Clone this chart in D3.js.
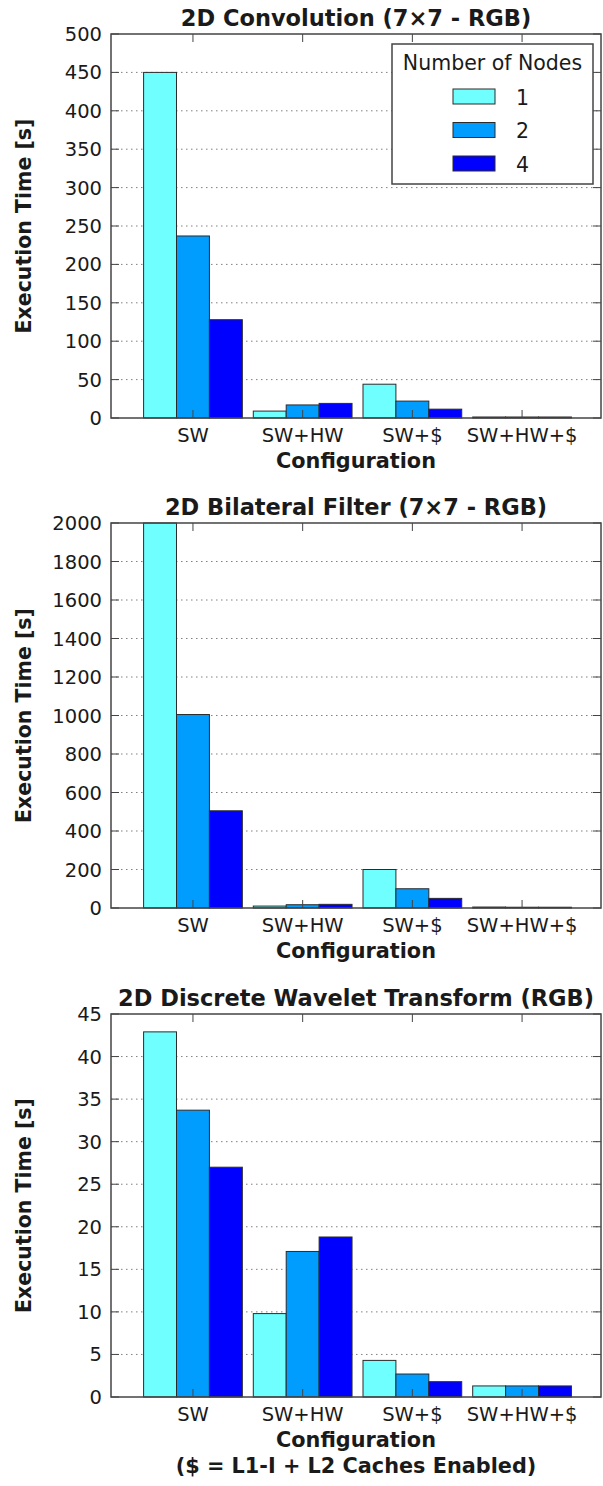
<!DOCTYPE html>
<html>
<head>
<meta charset="utf-8">
<script src="https://cdn.jsdelivr.net/npm/d3@7"></script>
<style>
  html, body { margin: 0; padding: 0; background: #fff; }
  svg { display: block; }
  text { font-family: "DejaVu Sans", sans-serif; fill: #1a1a1a; }
</style>
</head>
<body>
<svg id="chart" width="603" height="1486"></svg>
<script>
// ---- data ----
const categories = ["SW", "SW+HW", "SW+$", "SW+HW+$"];
const nodeCounts = ["1", "2", "4"];
const nodeColors = ["#70ffff", "#009dff", "#0000ff"];

// values[category][node]
const convolutionValues = [[450, 237, 128], [9, 17, 19], [44, 22, 11.5], [1.3, 1.3, 1.3]];
const bilateralValues = [[2000, 1005, 505], [10, 17, 19], [200, 100, 50], [5, 4, 4]];
const waveletValues = [[42.9, 33.7, 27.0], [9.8, 17.1, 18.8], [4.3, 2.7, 1.8], [1.3, 1.3, 1.3]];

const convolutionTicks = [0, 50, 100, 150, 200, 250, 300, 350, 400, 450, 500];
const bilateralTicks = [0, 200, 400, 600, 800, 1000, 1200, 1400, 1600, 1800, 2000];
const waveletTicks = [0, 5, 10, 15, 20, 25, 30, 35, 40, 45];

const titles = ["2D Convolution (7\u00d77 - RGB)", "2D Bilateral Filter (7\u00d77 - RGB)", "2D Discrete Wavelet Transform (RGB)"];
const yLabel = "Execution Time [s]";
const xLabel = "Configuration";
const xNote = "($ = L1-I + L2 Caches Enabled)";
const legendTitle = "Number of Nodes";

// ---- layout ----
const svg = d3.select("#chart");
const left = 111, right = 601;
const panels = [
  { title: titles[0], values: convolutionValues, ticks: convolutionTicks, top: 34, bottom: 418, legend: true, note: false },
  { title: titles[1], values: bilateralValues, ticks: bilateralTicks, top: 523, bottom: 908, legend: false, note: false },
  { title: titles[2], values: waveletValues, ticks: waveletTicks, top: 1014, bottom: 1397, legend: false, note: true }
];

const step = 109.7;
const x0 = d3.scaleBand().domain(categories)
  .range([143.6, 143.6 + 3.9 * step]).paddingInner(0.1).paddingOuter(0);
const x1 = d3.scaleBand().domain(nodeCounts).range([0, x0.bandwidth()]).padding(0);
const color = d3.scaleOrdinal().domain(nodeCounts).range(nodeColors);

const spine = "#444";
const tickLen = 8;

panels.forEach(p => {
  const g = svg.append("g");
  const y = d3.scaleLinear().domain([0, d3.max(p.ticks)]).range([p.bottom, p.top]);

  // grid
  g.append("g").selectAll("line").data(p.ticks.filter(t => t > 0 && t < d3.max(p.ticks))).join("line")
    .attr("x1", left).attr("x2", right)
    .attr("y1", d => y(d)).attr("y2", d => y(d))
    .attr("stroke", "#808080").attr("stroke-width", 1)
    .attr("stroke-dasharray", "1.5,3.5");

  // bars
  const groups = g.append("g").selectAll("g").data(categories).join("g")
    .attr("transform", c => `translate(${x0(c)},0)`);
  groups.selectAll("rect")
    .data((c, i) => nodeCounts.map((n, j) => ({ n, v: p.values[i][j] })))
    .join("rect")
    .attr("x", d => x1(d.n))
    .attr("y", d => y(d.v))
    .attr("width", x1.bandwidth())
    .attr("height", d => y(0) - y(d.v))
    .attr("fill", d => color(d.n))
    .attr("stroke", "#2b2b2b").attr("stroke-width", 1);

  // ticks inward on all sides
  const tg = g.append("g").attr("stroke", spine).attr("stroke-width", 1);
  p.ticks.forEach(t => {
    tg.append("line").attr("x1", left).attr("x2", left + tickLen).attr("y1", y(t)).attr("y2", y(t));
    tg.append("line").attr("x1", right).attr("x2", right - tickLen).attr("y1", y(t)).attr("y2", y(t));
  });
  categories.forEach(c => {
    const cx = x0(c) + x0.bandwidth() / 2;
    tg.append("line").attr("x1", cx).attr("x2", cx).attr("y1", p.top).attr("y2", p.top + tickLen);
    tg.append("line").attr("x1", cx).attr("x2", cx).attr("y1", p.bottom).attr("y2", p.bottom - tickLen);
  });

  // frame
  g.append("rect").attr("x", left).attr("y", p.top)
    .attr("width", right - left).attr("height", p.bottom - p.top)
    .attr("fill", "none").attr("stroke", spine).attr("stroke-width", 1.5);

  // y tick labels
  g.append("g").selectAll("text").data(p.ticks).join("text")
    .attr("x", left - 9).attr("y", d => y(d)).attr("dy", "0.36em")
    .attr("text-anchor", "end").style("font-size", "19.5px")
    .text(d => d);

  // x tick labels
  g.append("g").selectAll("text").data(categories).join("text")
    .attr("x", c => x0(c) + x0.bandwidth() / 2).attr("y", p.bottom + 24)
    .attr("text-anchor", "middle").style("font-size", "19.5px")
    .text(c => c);

  // axis labels
  const cxAxis = (left + right) / 2;
  g.append("text").attr("x", cxAxis).attr("y", p.bottom + 50)
    .attr("text-anchor", "middle").style("font-size", "20.8px").style("font-weight", "bold")
    .text(xLabel);
  if (p.note) {
    g.append("text").attr("x", cxAxis).attr("y", p.bottom + 76)
      .attr("text-anchor", "middle").style("font-size", "20.8px").style("font-weight", "bold")
      .text(xNote);
  }
  g.append("text")
    .attr("transform", `translate(31,${(p.top + p.bottom) / 2}) rotate(-90)`)
    .attr("text-anchor", "middle").style("font-size", "20.5px").style("font-weight", "bold")
    .text(yLabel);

  // title
  g.append("text").attr("x", cxAxis).attr("y", p.top - 8)
    .attr("text-anchor", "middle").style("font-size", "22.5px").style("font-weight", "bold")
    .text(p.title);

  // legend
  if (p.legend) {
    const lg = g.append("g");
    lg.append("rect").attr("x", 392).attr("y", 44).attr("width", 201).attr("height", 140)
      .attr("fill", "#fff").attr("stroke", spine).attr("stroke-width", 1.5);
    lg.append("text").attr("x", 492.5).attr("y", 70).attr("text-anchor", "middle")
      .style("font-size", "20.5px").text(legendTitle);
    const rows = lg.selectAll("g.row").data(nodeCounts).join("g").attr("class", "row")
      .attr("transform", (d, i) => `translate(0,${89 + i * 33.5})`);
    rows.append("rect").attr("x", 453).attr("y", 0).attr("width", 42).attr("height", 15)
      .attr("fill", d => color(d)).attr("stroke", "#2b2b2b").attr("stroke-width", 1);
    rows.append("text").attr("x", 516).attr("y", 15.5)
      .style("font-size", "20.5px").text(d => d);
  }
});
</script>
</body>
</html>
